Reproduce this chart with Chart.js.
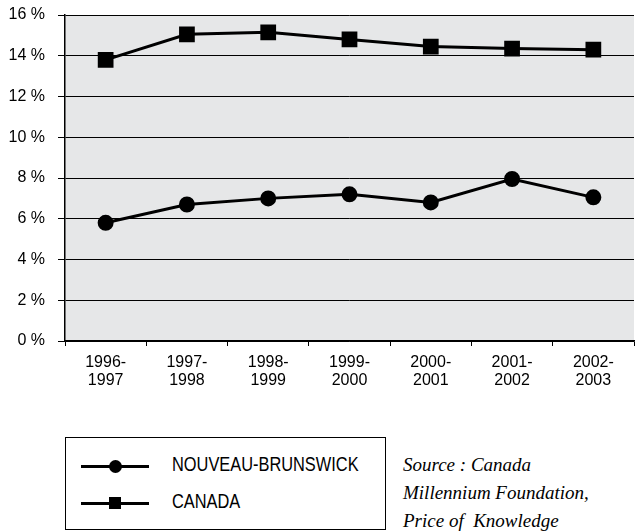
<!DOCTYPE html>
<html>
<head>
<meta charset="utf-8">
<script src="https://cdn.jsdelivr.net/npm/chart.js@4/dist/chart.umd.min.js"></script>
<style>
  body { margin: 0; background: #fff; }
  #wrap { position: relative; width: 644px; height: 531px; overflow: hidden; }
  #chartBox { position: absolute; left: 0; top: 0; width: 644px; height: 400px; }
  #legend {
    position: absolute; left: 65px; top: 437px; width: 321px; height: 93px;
    border: 1px solid #000; box-sizing: border-box;
    font-family: "Liberation Sans", Arial, sans-serif; font-size: 21px;
  }
  .item { position: absolute; left: 0; height: 20px; }
  .item .line { position: absolute; left: 15px; top: 9px; width: 68px; height: 3px; background: #000; }
  .item .dot { position: absolute; left: 43px; top: 4px; width: 13px; height: 13px; background: #000; border-radius: 50%; }
  .item .sq { position: absolute; left: 43px; top: 4px; width: 12px; height: 12px; background: #000; }
  .item .txt { position: absolute; left: 106px; top: -4px; white-space: nowrap; transform: scaleX(0.78); transform-origin: left center; }
  #source {
    position: absolute; left: 403px; top: 451px; font-family: "Liberation Serif", serif;
    font-style: italic; font-size: 19px; line-height: 28px; white-space: nowrap;
  }
</style>
</head>
<body>
<div id="wrap">
  <div id="chartBox"><canvas id="chart"></canvas></div>
  <div id="legend"></div>
  <div id="source">Source : Canada<br>Millennium Foundation,<br>Price of&nbsp; Knowledge</div>
</div>
<script>
// Données
const years = [['1996-', '1997'], ['1997-', '1998'], ['1998-', '1999'], ['1999-', '2000'],
               ['2000-', '2001'], ['2001-', '2002'], ['2002-', '2003']];
const nouveauBrunswick = [5.8, 6.7, 7.0, 7.2, 6.8, 7.95, 7.05];
const canada = [13.8, 15.05, 15.15, 14.8, 14.45, 14.35, 14.3];
const yTicks = [0, 2, 4, 6, 8, 10, 12, 14, 16];

const seriesNames = ['NOUVEAU-BRUNSWICK', 'CANADA'];
const sans = '"Liberation Sans", Arial, sans-serif';

// Fond gris de la zone du graphique
const plotBackground = {
    id: 'plotBackground',
    beforeDraw(chart) {
        const { ctx, chartArea: a } = chart;
        ctx.save();
        ctx.fillStyle = '#e6e7e8';
        ctx.fillRect(a.left, a.top, a.right - a.left, a.bottom - a.top);
        ctx.restore();
    }
};

new Chart(document.getElementById('chart'), {
    type: 'line',
    data: {
        labels: years,
        datasets: [{
            label: seriesNames[0],
            data: nouveauBrunswick,
            borderColor: '#000',
            backgroundColor: '#000',
            borderWidth: 3,
            pointStyle: 'circle',
            pointRadius: 6.5,
            pointHoverRadius: 6.5,
            tension: 0
        }, {
            label: seriesNames[1],
            data: canada,
            borderColor: '#000',
            backgroundColor: '#000',
            borderWidth: 3,
            pointStyle: 'rect',
            pointRadius: 9,
            pointHoverRadius: 9,
            tension: 0
        }]
    },
    options: {
        responsive: true,
        maintainAspectRatio: false,
        animation: false,
        layout: { autoPadding: false, padding: { top: 15, right: 10, left: 0, bottom: 0 } },
        plugins: {
            legend: { display: false },
            tooltip: { enabled: false }
        },
        scales: {
            x: {
                offset: true,
                afterFit: scale => { scale.height = 59; },
                grid: { offset: true, drawOnChartArea: false, color: '#000', tickLength: 5 },
                border: { color: '#000', width: 1.5 },
                ticks: { color: '#000', font: { family: sans, size: 16, lineHeight: 1.125 }, padding: 8, maxRotation: 0 }
            },
            y: {
                min: 0,
                max: 16,
                afterFit: scale => {
                    scale.width = 65;
                    scale.paddingTop = 8;
                    scale.paddingBottom = 8;
                },
                afterBuildTicks: scale => { scale.ticks = yTicks.map(v => ({ value: v })); },
                grid: { color: '#000', lineWidth: 1, tickLength: 7 },
                border: { color: '#000', width: 1.5 },
                ticks: {
                    color: '#000',
                    font: { family: sans, size: 16 },
                    padding: 13,
                    callback: v => v + ' %'
                }
            }
        }
    },
    plugins: [plotBackground]
});

// Légende
const legend = document.getElementById('legend');
seriesNames.forEach((name, i) => {
    const item = document.createElement('div');
    item.className = 'item';
    item.style.top = (i === 0 ? 18 : 55) + 'px';
    item.innerHTML = `<div class="line"></div><div class="${i === 0 ? 'dot' : 'sq'}"></div><div class="txt">${name}</div>`;
    legend.appendChild(item);
});
</script>
</body>
</html>
